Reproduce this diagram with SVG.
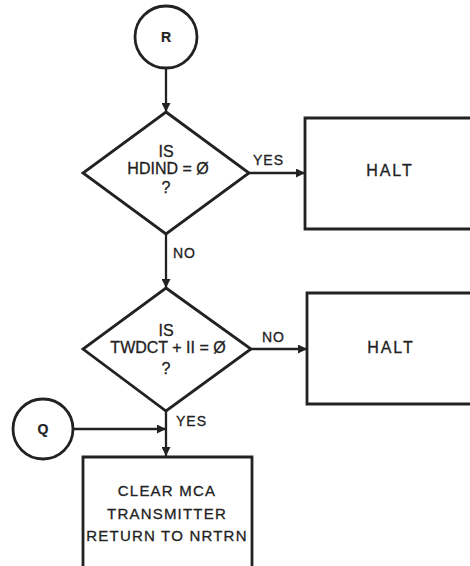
<svg xmlns="http://www.w3.org/2000/svg" width="470" height="566" viewBox="0 0 470 566">
<style>
.sh{fill:none;stroke:#222;stroke-width:2.8}
.ln{fill:none;stroke:#222;stroke-width:2.3}
text{font-family:"Liberation Sans",Arial,sans-serif;fill:#222;stroke:#222;stroke-width:0.3;text-anchor:middle;dominant-baseline:central}
.d{font-size:16px}
.b{font-size:15px;letter-spacing:1.2px}
.h{font-size:16px;letter-spacing:2px}
.l{font-size:14px;letter-spacing:1px;text-anchor:start}
.c{font-size:14px;font-weight:bold;stroke-width:0.2}
</style>
<defs>
<marker id="ah" viewBox="0 0 10 10" refX="10" refY="5" markerWidth="9" markerHeight="9" markerUnits="userSpaceOnUse" orient="auto">
<path d="M0,0 L10,5 L0,10 z" fill="#222"/>
</marker>
</defs>
<rect width="470" height="566" fill="#fff"/>
<g id="connectors">
<line class="ln" x1="166" y1="68" x2="166" y2="112" marker-end="url(#ah)"/>
<line class="ln" x1="249" y1="173" x2="305" y2="173" marker-end="url(#ah)"/>
<text class="l" x="253" y="160">YES</text>
<line class="ln" x1="166" y1="234" x2="166" y2="288" marker-end="url(#ah)"/>
<text class="l" x="173" y="253">NO</text>
<line class="ln" x1="251" y1="349" x2="307" y2="349" marker-end="url(#ah)"/>
<text class="l" x="262" y="337">NO</text>
<line class="ln" x1="166" y1="411" x2="166" y2="456" marker-end="url(#ah)"/>
<text class="l" x="176" y="421">YES</text>
<line class="ln" x1="73" y1="429" x2="166" y2="429" marker-end="url(#ah)"/>
</g>
<g id="R">
<circle class="sh" cx="166" cy="37" r="31"/>
<text class="c" x="166" y="37">R</text>
</g>
<g id="dec1">
<polygon class="sh" points="166,112 249,173 166,234 83,173"/>
<text class="d" x="166" y="151">IS</text>
<text class="d" x="168" y="168">HDIND = Ø</text>
<text class="d" x="166" y="187">?</text>
</g>
<g id="halt1">
<path class="sh" d="M470,118 H305 V229 H470"/>
<text class="h" x="390" y="170">HALT</text>
</g>
<g id="dec2">
<polygon class="sh" points="166,288 251,349 166,411 83,349"/>
<text class="d" x="166" y="330">IS</text>
<text class="d" x="168" y="347">TWDCT + II = Ø</text>
<text class="d" x="166" y="368">?</text>
</g>
<g id="halt2">
<path class="sh" d="M470,293 H307 V404 H470"/>
<text class="h" x="391" y="347">HALT</text>
</g>
<g id="Q">
<circle class="sh" cx="43" cy="429" r="30"/>
<text class="c" x="43" y="429">Q</text>
</g>
<g id="clear">
<path class="sh" d="M83,566 V457 H252 V566"/>
<text class="b" x="167" y="490">CLEAR MCA</text>
<text class="b" x="167" y="513">TRANSMITTER</text>
<text class="b" x="167" y="535">RETURN TO NRTRN</text>
</g>
</svg>
